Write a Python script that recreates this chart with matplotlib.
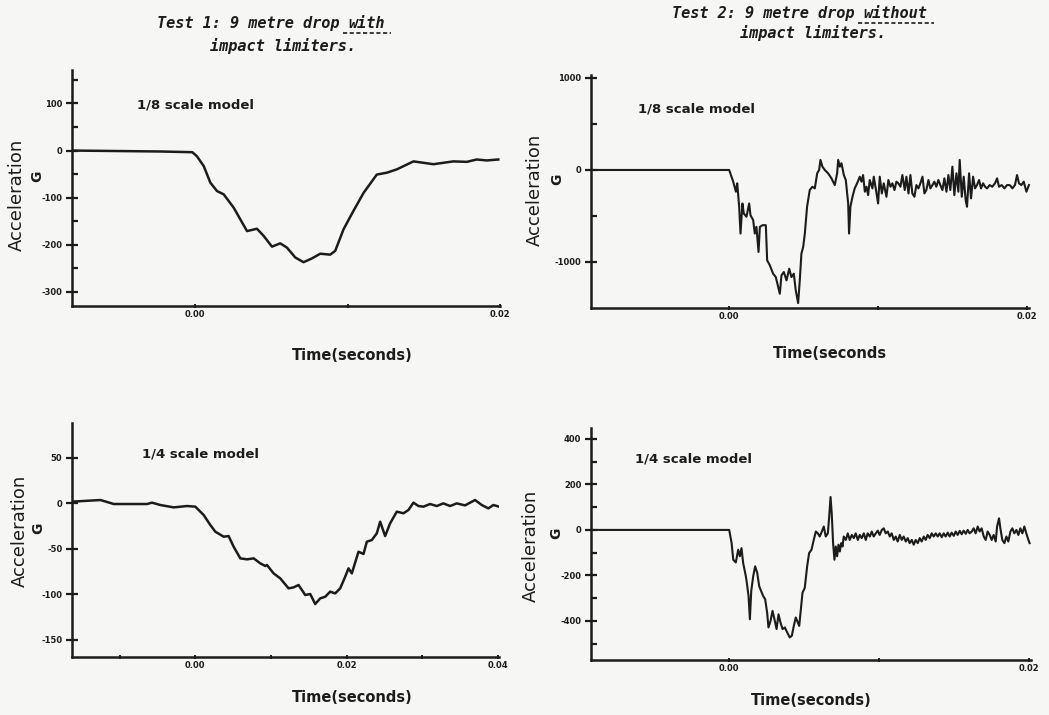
import matplotlib
matplotlib.use("Agg")
import matplotlib.pyplot as plt
from matplotlib.lines import Line2D

W, H = 1049, 715
INK = "#1c1c1c"
BG = "#f6f6f4"

# ---------------- data (time in seconds, acceleration in G) ----------------
t_p1 = [-0.00809, -0.0023, -0.0002, 0.0001, 0.00055, 0.00098, 0.00142, 0.00186,
        0.00251, 0.00339, 0.00404, 0.00448, 0.00503, 0.00557, 0.00601, 0.00656,
        0.0071, 0.00765, 0.0082, 0.00885, 0.00918, 0.00973, 0.01038, 0.01104,
        0.01191, 0.01257, 0.01322, 0.01432, 0.01497, 0.01563, 0.01628, 0.01694,
        0.01782, 0.01847, 0.01913, 0.01989]
a_p1 = [0, -2, -3.5, -12, -33, -68, -86, -93, -121, -171, -166, -181, -204, -197,
        -206, -227, -237, -229, -219, -221, -213, -167, -128, -90, -51, -47, -40,
        -23, -26, -29, -26, -23, -24, -19, -21, -19]

t_p2 = [-0.00928, 0.0, 0.00027, 0.00045, 0.00054, 0.00067, 0.00076, 0.00089, 0.00098,
        0.00116, 0.00134, 0.00143, 0.00161, 0.00172, 0.00183, 0.00197, 0.00206,
        0.00224, 0.00246, 0.00255, 0.00273, 0.00295, 0.00313, 0.00329, 0.0034,
        0.00351, 0.00367, 0.00385, 0.00403, 0.00418, 0.00434, 0.00447, 0.00463,
        0.00474, 0.00485, 0.00497, 0.00508, 0.00523, 0.00541, 0.00559, 0.00575,
        0.00591, 0.00604, 0.00613, 0.00626, 0.00642, 0.00664, 0.00687, 0.00709,
        0.00725, 0.00732, 0.00743, 0.00754, 0.0077, 0.00783, 0.00799, 0.00805,
        0.00814, 0.00828, 0.00843, 0.00859, 0.00877, 0.00888, 0.00899, 0.00911,
        0.00922, 0.00933, 0.00944, 0.00962, 0.00971, 0.00984, 0.01, 0.01011,
        0.01025, 0.01038, 0.01056, 0.01069, 0.01083, 0.01096, 0.0111, 0.01123,
        0.01136, 0.0115, 0.01163, 0.01179, 0.0119, 0.01204, 0.01217, 0.0123,
        0.01244, 0.01257, 0.01271, 0.01284, 0.01298, 0.01311, 0.01324, 0.01338,
        0.01351, 0.01365, 0.01378, 0.01391, 0.01405, 0.01418, 0.01432, 0.01445,
        0.01459, 0.01472, 0.01485, 0.01499, 0.01512, 0.01526, 0.01539, 0.01548,
        0.01562, 0.01575, 0.01588, 0.01597, 0.01611, 0.01624, 0.01638, 0.01651,
        0.01664, 0.01678, 0.01691, 0.01705, 0.01718, 0.01732, 0.01749, 0.01767,
        0.01785, 0.01799, 0.01812, 0.0183, 0.01848, 0.01866, 0.01884, 0.01902,
        0.01919, 0.01933, 0.01946, 0.01962, 0.01978, 0.01996, 0.02013]
a_p2 = [0, 0, -127, -236, -145, -400, -691, -364, -473, -509, -364, -491, -545, -691,
        -618, -891, -618, -600, -600, -982, -1036, -1127, -1164, -1273, -1345, -1145,
        -1109, -1200, -1073, -1164, -1127, -1309, -1447, -1200, -909, -836, -691,
        -400, -218, -182, -200, -36, 0, 109, 36, 0, -36, -91, -164, -36, 109, 36, 73,
        -55, -109, -364, -691, -400, -291, -200, -145, -73, -127, -55, -236, -182,
        -273, -109, -200, -73, -200, -364, -73, -255, -145, -291, -109, -182, -145,
        -218, -127, -145, -182, -55, -218, -73, -255, -55, -255, -291, -164, -200,
        -145, -73, -255, -218, -109, -200, -164, -127, -182, -109, -164, -218, -91,
        -236, -55, -218, 36, -273, -36, -236, 109, -291, -73, -327, -400, -36, -309,
        -73, -200, -164, -109, -200, -145, -182, -200, -164, -182, -145, -91, -182,
        -164, -200, -164, -164, -200, -164, -55, -145, -164, -127, -236, -164]

t_p3 = [-0.01628, -0.01254, -0.01078, -0.00814, -0.00638, -0.00572, -0.00462,
        -0.00286, -0.0011, 0.0, 0.0011, 0.00198, 0.00264, 0.00374, 0.0044, 0.00506,
        0.00594, 0.00682, 0.0077, 0.00858, 0.00924, 0.00946, 0.01034, 0.01122,
        0.01232, 0.01298, 0.01364, 0.01452, 0.01518, 0.01584, 0.0165, 0.01716,
        0.01782, 0.01848, 0.01914, 0.0198, 0.02024, 0.02068, 0.02156, 0.02222,
        0.02266, 0.02332, 0.02398, 0.02442, 0.02508, 0.02574, 0.02662, 0.0275,
        0.02816, 0.02882, 0.02948, 0.03014, 0.03102, 0.0319, 0.03278, 0.03366,
        0.03454, 0.03564, 0.03696, 0.03785, 0.03872, 0.03938, 0.04013]
a_p3 = [1.5, 3.3, -1.1, -1.1, -1.1, 0.4, -2.2, -4.8, -3.3, -4.0, -13.2, -24.2, -31.5,
        -37, -36.3, -48, -60.8, -61.9, -60.8, -66.3, -69.2, -68.1, -77.3, -82.8,
        -93.8, -92.7, -90.1, -101.1, -100, -111, -104.8, -103, -97.4, -99.3, -93.8,
        -81, -71.8, -77.3, -53.5, -56, -42.5, -40.7, -33.3, -20.5, -36.3, -22.3,
        -9.5, -11.3, -7.7, 0.4, -3.3, -4.0, -1.1, -3.3, -0.4, -3.3, -0.4, -2.6, 3.3,
        -2.2, -5.9, -2.2, -4.0]

t_p4 = [-0.00922, 0.0, 0.00016, 0.00027, 0.00044, 0.0006, 0.00071, 0.00082, 0.00093,
        0.00111, 0.00116, 0.00129, 0.00138, 0.00147, 0.0016, 0.00173, 0.00187, 0.002,
        0.00213, 0.00227, 0.0024, 0.00253, 0.00262, 0.00276, 0.00289, 0.00302,
        0.00316, 0.00329, 0.00342, 0.00356, 0.00371, 0.00387, 0.00404, 0.00418,
        0.00431, 0.00444, 0.00458, 0.00467, 0.00476, 0.00489, 0.00504, 0.0052,
        0.00533, 0.00549, 0.00564, 0.00578, 0.00591, 0.00604, 0.00618, 0.00631,
        0.00644, 0.00658, 0.00667, 0.00676, 0.00684, 0.00693, 0.00702, 0.00711,
        0.0072, 0.00729, 0.00738, 0.00747, 0.00756, 0.00764, 0.00778, 0.00791,
        0.00804, 0.00818, 0.00831, 0.00844, 0.00858, 0.00871, 0.00884, 0.00898,
        0.00911, 0.00924, 0.00938, 0.00951, 0.00964, 0.00978, 0.00991, 0.01004,
        0.01018, 0.01031, 0.01044, 0.01058, 0.01071, 0.01084, 0.01098, 0.01111,
        0.01124, 0.01138, 0.01151, 0.01164, 0.01178, 0.01191, 0.01204, 0.01218,
        0.01231, 0.01244, 0.01258, 0.01271, 0.01284, 0.01298, 0.01311, 0.01324,
        0.01338, 0.01351, 0.01364, 0.01378, 0.01391, 0.01404, 0.01418, 0.01431,
        0.01444, 0.01458, 0.01471, 0.01484, 0.01498, 0.01511, 0.01524, 0.01538,
        0.01551, 0.01564, 0.01578, 0.01591, 0.01604, 0.01618, 0.01631, 0.01644,
        0.01658, 0.01671, 0.01684, 0.01698, 0.01711, 0.01724, 0.01738, 0.01751,
        0.01764, 0.01778, 0.01787, 0.018, 0.01809, 0.01822, 0.01836, 0.01849,
        0.01862, 0.01876, 0.01889, 0.01902, 0.01916, 0.01929, 0.01942, 0.01956,
        0.01969, 0.01982, 0.01996, 0.02004]
a_p4 = [0, 0, -58, -131, -143, -87, -116, -80, -145, -204, -225, -291, -393, -269,
        -204, -160, -189, -247, -269, -291, -305, -364, -429, -400, -356, -393, -436,
        -371, -407, -436, -429, -451, -473, -465, -422, -385, -407, -422, -364, -276,
        -255, -160, -102, -87, -44, -7, -15, -29, -7, 15, -29, -15, 58, 145, 73, -58,
        -131, -73, -116, -65, -95, -58, -73, -29, -44, -15, -44, -22, -36, -15, -44,
        -22, -36, -15, -44, -15, -29, -7, -29, -15, -3, -22, 0, 7, -15, -7, -29, -15,
        -44, -29, -51, -22, -44, -29, -51, -36, -58, -44, -65, -44, -58, -36, -51,
        -29, -44, -22, -36, -15, -29, -15, -29, -15, -32, -15, -29, -12, -29, -12,
        -26, -7, -22, -4, -19, -3, -17, 0, -15, -7, 7, -15, 15, -7, 7, -29, -44, -7,
        -22, -44, -22, -51, 15, 51, 7, -44, -58, -29, -51, -7, 7, -15, 0, -22, 7, -15,
        15, -15, -44, -58]

# tick values / labels
p1_yticks = [-300, -200, -100, 0, 100]
p1_yminor = [-250, -150, -50, 50, 150]
p1_xticks = [0.0, 0.02]
p1_xlabels = ["0.00", "0.02"]
p1_xminor = [0.01]

p2_yticks = [-1000, 0, 1000]
p2_yminor = [-500, 500]
p2_xticks = [0.0, 0.02]
p2_xlabels = ["0.00", "0.02"]
p2_xminor = [0.01]

p3_yticks = [-150, -100, -50, 0, 50]
p3_yminor = []
p3_xticks = [0.0, 0.02, 0.04]
p3_xlabels = ["0.00", "0.02", "0.04"]
p3_xminor = [-0.01, 0.01, 0.03]

p4_yticks = [-400, -200, 0, 200, 400]
p4_yminor = [-500, -300, -100, 100, 300]
p4_xticks = [0.0, 0.02]
p4_xlabels = ["0.00", "0.02"]
p4_xminor = [0.01]

title1 = "Test 1: 9 metre drop "
title1_u = "with"
title2 = "Test 2: 9 metre drop "
title2_u = "without"
title_l2 = "impact limiters."
label_18 = "1/8 scale model"
label_14 = "1/4 scale model"
xlab = "Time(seconds)"
xlab_cut = "Time(seconds"
ylab = "Acceleration"
ylab_g = "G"

# ---------------- figure ----------------
fig = plt.figure(figsize=(W / 100, H / 100), dpi=100, facecolor=BG)


def fx(px):
    return px / W


def fy(py):
    return 1 - py / H


def make_ax(rect, xlim, ylim, xt, xl, xm, yt, ym):
    ax = fig.add_axes(rect)
    ax.set_facecolor("none")
    ax.set_xlim(*xlim)
    ax.set_ylim(*ylim)
    for s in ("top", "right"):
        ax.spines[s].set_visible(False)
    for s in ("left", "bottom"):
        ax.spines[s].set_linewidth(1.8)
        ax.spines[s].set_color(INK)
    ax.set_xticks(xt)
    ax.set_xticklabels(xl)
    ax.set_xticks(xm, minor=True)
    ax.set_yticks(yt)
    ax.set_yticklabels([f"{v:d}" for v in yt])
    ax.set_yticks(ym, minor=True)
    ax.tick_params(axis="y", which="major", direction="inout", length=8, width=1.6,
                   colors=INK, labelsize=6, pad=3)
    ax.tick_params(axis="y", which="minor", direction="in", length=4.5, width=1.6,
                   colors=INK)
    ax.tick_params(axis="x", which="both", direction="inout", length=3.5, width=1.4,
                   colors=INK, labelsize=6, pad=1)
    for lab in ax.get_xticklabels() + ax.get_yticklabels():
        lab.set_fontweight("bold")
    return ax


ax1 = make_ax([fx(72), fy(306), fx(428), 236 / H], (-0.0081, 0.02), (-330, 171),
              p1_xticks, p1_xlabels, p1_xminor, p1_yticks, p1_yminor)
ax1.plot(t_p1, a_p1, color=INK, lw=1.8, solid_joinstyle="round")

ax2 = make_ax([fx(591), fy(308), fx(437.5), 232.8 / H], (-0.00928, 0.0201), (-1500, 1030),
              p2_xticks, p2_xlabels, p2_xminor, p2_yticks, p2_yminor)
ax2.plot(t_p2, a_p2, color=INK, lw=1.5, solid_joinstyle="round", clip_on=False)

ax3 = make_ax([fx(72), fy(656.8), fx(426.8), 233.4 / H], (-0.0163, 0.0401), (-169, 87.5),
              p3_xticks, p3_xlabels, p3_xminor, p3_yticks, p3_yminor)
ax3.plot(t_p3, a_p3, color=INK, lw=1.8, solid_joinstyle="round")

ax4 = make_ax([fx(591), fy(660), fx(439.5), 232.4 / H], (-0.00922, 0.0201), (-572, 450),
              p4_xticks, p4_xlabels, p4_xminor, p4_yticks, p4_yminor)
ax4.plot(t_p4, a_p4, color=INK, lw=1.5, solid_joinstyle="round", clip_on=False)

# ---------------- text ----------------
lab_kw = dict(fontsize=9.5, fontweight="bold", color=INK, family="DejaVu Sans",
              ha="left", va="baseline")
fig.text(fx(137), fy(108), label_18, **lab_kw)
fig.text(fx(638), fy(113), label_18, **lab_kw)
fig.text(fx(142), fy(457), label_14, **lab_kw)
fig.text(fx(635), fy(462), label_14, **lab_kw)

xl_kw = dict(fontsize=10.5, fontweight="bold", color=INK, family="DejaVu Sans",
             ha="center", va="baseline")
fig.text(fx(352), fy(360), xlab, **xl_kw)
fig.text(fx(830), fy(358), xlab_cut, **xl_kw)
fig.text(fx(352), fy(702), xlab, **xl_kw)
fig.text(fx(811), fy(705), xlab, **xl_kw)

yl_kw = dict(fontsize=13, color=INK, family="DejaVu Sans", rotation=90,
             ha="center", va="center")
fig.text(fx(17), fy(195), ylab, **yl_kw)
fig.text(fx(535), fy(190), ylab, **yl_kw)
fig.text(fx(20), fy(531), ylab, **yl_kw)
fig.text(fx(531), fy(546), ylab, **yl_kw)

g_kw = dict(fontsize=10, color=INK, family="DejaVu Sans", fontweight="bold",
            rotation=90, ha="center", va="center")
fig.text(fx(37), fy(176), ylab_g, **g_kw)
fig.text(fx(557), fy(179), ylab_g, **g_kw)
fig.text(fx(38), fy(528), ylab_g, **g_kw)
fig.text(fx(556), fy(533), ylab_g, **g_kw)

t_kw = dict(fontsize=11, color=INK, family="DejaVu Sans Mono", style="italic",
            fontweight="bold", va="baseline")
ta = fig.text(fx(157), fy(28), title1, ha="left", **t_kw)
tb = fig.text(fx(672), fy(18), title2, ha="left", **t_kw)
fig.text(fx(210), fy(51), title_l2, ha="left", **t_kw)
fig.text(fx(740), fy(38), title_l2, ha="left", **t_kw)

fig.canvas.draw()
renderer = fig.canvas.get_renderer()
for base, word in ((ta, title1_u), (tb, title2_u)):
    bb = base.get_window_extent(renderer)
    x0 = bb.x1 / W
    yb = base.get_position()[1]
    w = fig.text(x0, yb, word, ha="left", **t_kw)
    fig.canvas.draw()
    wb = w.get_window_extent(renderer)
    ybase = yb * H
    ln = Line2D([bb.x1 - 6, wb.x1 + 6], [ybase - 5, ybase - 5],
                transform=None, color=INK, lw=1.2, linestyle=(0, (2.5, 1.5)))
    fig.add_artist(ln)

fig.savefig("out.png", dpi=100, facecolor=BG)
